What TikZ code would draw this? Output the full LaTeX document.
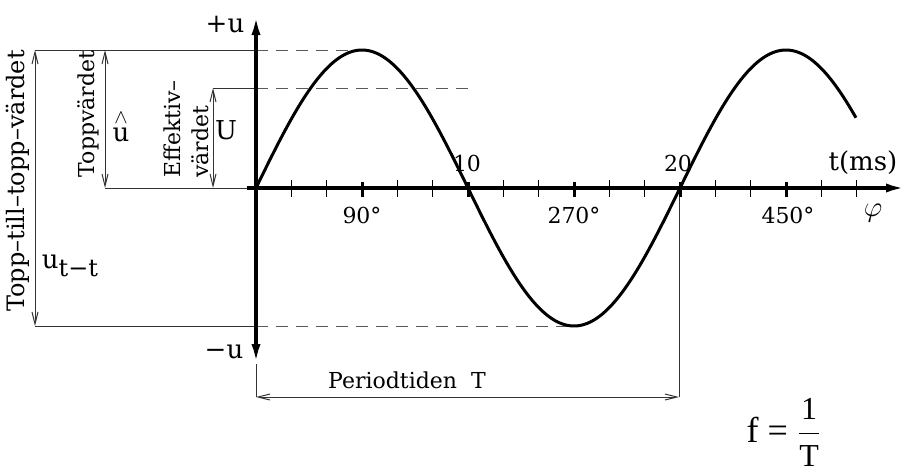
\documentclass[tikz,border=0pt]{standalone}
\usepackage{amsmath}
\usepackage{fontspec}
\setmainfont{DejaVu Serif}
\newfontfamily\timesfont{Liberation Serif}
\usetikzlibrary{arrows.meta}
\begin{document}
\begin{tikzpicture}[x=0.5pt,y=-0.5pt,
  thinline/.style={line width=0.5pt, draw=black!80},
  dimline/.style={thinline, {Straight Barb[length=6pt,width=3pt]}-{Straight Barb[length=6pt,width=3pt]}},
  dashline/.style={line width=0.5pt, draw=black!65, dash pattern=on 6pt off 4pt},
  axisline/.style={line width=1.8pt},
  axtip/.tip={Latex[length=10pt,width=4.5pt]},
  lbl/.style={font=\fontsize{11}{13}\selectfont, inner sep=0pt},
  biglbl/.style={font=\fontsize{13}{15}\selectfont, inner sep=0pt},
  ]
\useasboundingbox (0,0) rectangle (906,471);
% coordinates
\coordinate (O) at (256,188);
\coordinate (Ytop) at (256,15);
\coordinate (Ybot) at (256,364);
\coordinate (Xstart) at (247,188);
\coordinate (Xend) at (906,188);
\coordinate (TT1) at (35,50);
\coordinate (TT2) at (35,326);
\coordinate (TV1) at (105,50);
\coordinate (TV2) at (105,188);
\coordinate (EV1) at (213,88);
\coordinate (EV2) at (213,188);
\coordinate (Pk) at (256,50);
\coordinate (PkE) at (363,50);
\coordinate (Uy) at (256,88);
\coordinate (UyE) at (468,88);
\coordinate (Tr) at (256,326);
\coordinate (TrE) at (572,326);
\coordinate (P0) at (256,397);
\coordinate (P1) at (679,397);
\coordinate (X360) at (679,188);
% reference lines
\draw[thinline] (TT1) -- (Pk);
\draw[dashline] (Pk) -- (PkE);
\draw[thinline] (EV1) -- (Uy);
\draw[dashline] (Uy) -- (UyE);
\draw[thinline] (TV2) -- (Xstart);
\draw[thinline] (TT2) -- (Tr);
\draw[dashline] (Tr) -- (TrE);
\draw[thinline] (Ybot) -- (P0);
\draw[thinline] (X360) -- (P1);
% dimension lines
\draw[dimline] (TT1) -- (TT2);
\draw[dimline] (TV1) -- (TV2);
\draw[dimline] (EV1) -- (EV2);
\draw[dimline] (P0) -- (P1);
% ticks
\foreach \k in {1,2,4,5,7,8,10,11,13,14,16,17}
  \draw[line width=0.6pt] ({256+\k*35.3333},180) -- ({256+\k*35.3333},197);
\foreach \k in {3,6,9,12,15}
  \draw[line width=1.5pt] ({256+\k*35.3333},182) -- ({256+\k*35.3333},197);
% axes
\draw[axisline, -{axtip}] (Xstart) -- (Xend);
\draw[axisline, {axtip}-{axtip}] (Ybot) -- (Ytop);
% sine curve
\draw[line width=1.5pt, line join=round] plot[domain=0:509.4, samples=240] ({256+\x*1.177778},{188-138*sin(\x)});
% labels
\node[biglbl] (pu) at (225,25) {+u};
\node[biglbl] (mu) at (224,352) {−u};
\node[font=\fontsize{12}{14}\selectfont, inner sep=0pt, rotate=90] (ttv) at (18,181) {Topp–till–topp–värdet};
\node[lbl, rotate=90] (tv) at (88,114) {Toppvärdet};
\node[biglbl, align=center] (uhat) at (121,127) {\shortstack{{\fontsize{10}{10}\selectfont$\wedge$}\\[-1pt]u}};
\node[lbl, rotate=90, anchor=west] (eff1) at (172,178) {Effektiv–};
\node[lbl, rotate=90, anchor=west] (eff2) at (200,178) {värdet};
\node[biglbl] (Ul) at (226,130) {U};
\node[biglbl] (utt) at (70,266) {u\lower4pt\hbox{\fontsize{12}{14}\selectfont t−t}};
\node[lbl] (t10) at (467,163) {10};
\node[lbl] (t20) at (678,163) {20};
\node[biglbl] (tms) at (863,163) {t(ms)};
\node[lbl] (d90) at (362,215) {90°};
\node[lbl] (d270) at (574,215) {270°};
\node[lbl] (d450) at (788,215) {450°};
\node[font=\fontsize{14}{16}\selectfont, inner sep=0pt] (phi) at (873,213) {$\varphi$};
\node[lbl] (per) at (407,380) {Periodtiden~~T};
\node[inner sep=0pt, font=\fontsize{18}{20}\selectfont\timesfont] (freq) at (784,432)
  {f = $\displaystyle\frac{\hbox{\fontsize{16}{18}\selectfont\timesfont 1}}{\hbox{\fontsize{16}{18}\selectfont\timesfont T}}$};
\end{tikzpicture}
\end{document}
